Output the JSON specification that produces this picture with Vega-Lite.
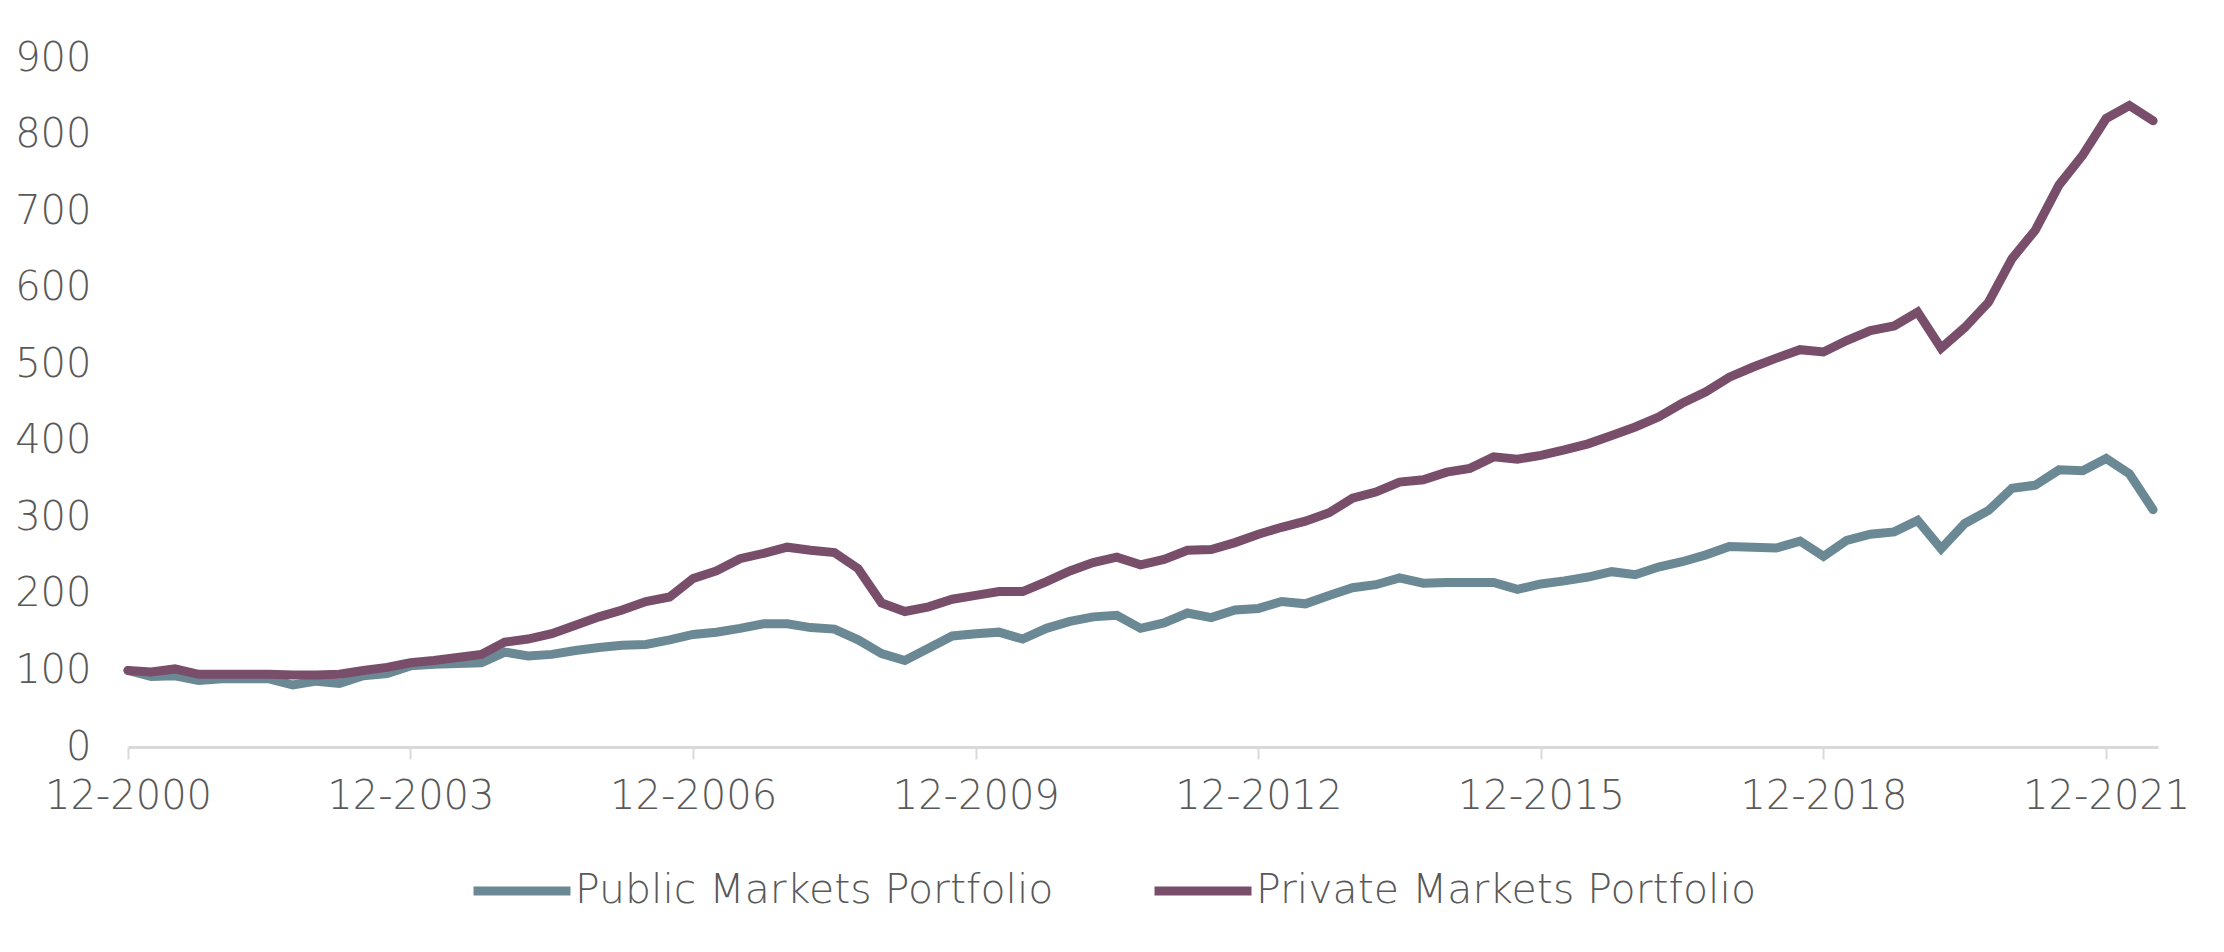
{
  "$schema": "https://vega.github.io/schema/vega-lite/v6.json",
  "width": 2030,
  "height": 689,
  "autosize": {"type": "none"},
  "padding": {"left": 128, "top": 58, "right": 66, "bottom": 205},
  "background": "white",
  "config": {
    "font": "DejaVu Sans",
    "view": {"stroke": null},
    "axis": {
      "labelFont": "DejaVu Sans",
      "labelFontWeight": 300,
      "labelColor": "#595959",
      "labelFontSize": 40,
      "grid": false,
      "title": null
    },
    "legend": {
      "labelFont": "DejaVu Sans",
      "labelFontWeight": 300,
      "labelColor": "#595959",
      "labelFontSize": 41
    }
  },
  "data": {
    "values": [
      {"date": "2000-12-01", "public": 100, "private": 100},
      {"date": "2001-03-01", "public": 92, "private": 98},
      {"date": "2001-06-01", "public": 93, "private": 102},
      {"date": "2001-09-01", "public": 87, "private": 95},
      {"date": "2001-12-01", "public": 89, "private": 95},
      {"date": "2002-03-01", "public": 89, "private": 95},
      {"date": "2002-06-01", "public": 89, "private": 95},
      {"date": "2002-09-01", "public": 81, "private": 94},
      {"date": "2002-12-01", "public": 86, "private": 94},
      {"date": "2003-03-01", "public": 83, "private": 95},
      {"date": "2003-06-01", "public": 93, "private": 100},
      {"date": "2003-09-01", "public": 96, "private": 104},
      {"date": "2003-12-01", "public": 106, "private": 110},
      {"date": "2004-03-01", "public": 108, "private": 113},
      {"date": "2004-06-01", "public": 109, "private": 117},
      {"date": "2004-09-01", "public": 110, "private": 121},
      {"date": "2004-12-01", "public": 124, "private": 137},
      {"date": "2005-03-01", "public": 119, "private": 141},
      {"date": "2005-06-01", "public": 121, "private": 148},
      {"date": "2005-09-01", "public": 126, "private": 159},
      {"date": "2005-12-01", "public": 130, "private": 170},
      {"date": "2006-03-01", "public": 133, "private": 179},
      {"date": "2006-06-01", "public": 134, "private": 190},
      {"date": "2006-09-01", "public": 140, "private": 196},
      {"date": "2006-12-01", "public": 147, "private": 220},
      {"date": "2007-03-01", "public": 150, "private": 230},
      {"date": "2007-06-01", "public": 155, "private": 246},
      {"date": "2007-09-01", "public": 161, "private": 253},
      {"date": "2007-12-01", "public": 161, "private": 261},
      {"date": "2008-03-01", "public": 156, "private": 257},
      {"date": "2008-06-01", "public": 154, "private": 254},
      {"date": "2008-09-01", "public": 140, "private": 233},
      {"date": "2008-12-01", "public": 122, "private": 188},
      {"date": "2009-03-01", "public": 113, "private": 177},
      {"date": "2009-06-01", "public": 129, "private": 183},
      {"date": "2009-09-01", "public": 145, "private": 193},
      {"date": "2009-12-01", "public": 148, "private": 198},
      {"date": "2010-03-01", "public": 150, "private": 203},
      {"date": "2010-06-01", "public": 141, "private": 203},
      {"date": "2010-09-01", "public": 155, "private": 216},
      {"date": "2010-12-01", "public": 164, "private": 230},
      {"date": "2011-03-01", "public": 170, "private": 241},
      {"date": "2011-06-01", "public": 172, "private": 248},
      {"date": "2011-09-01", "public": 155, "private": 238},
      {"date": "2011-12-01", "public": 162, "private": 245},
      {"date": "2012-03-01", "public": 175, "private": 257},
      {"date": "2012-06-01", "public": 169, "private": 258},
      {"date": "2012-09-01", "public": 179, "private": 267},
      {"date": "2012-12-01", "public": 181, "private": 278},
      {"date": "2013-03-01", "public": 190, "private": 287},
      {"date": "2013-06-01", "public": 187, "private": 295},
      {"date": "2013-09-01", "public": 198, "private": 306},
      {"date": "2013-12-01", "public": 208, "private": 325},
      {"date": "2014-03-01", "public": 212, "private": 333},
      {"date": "2014-06-01", "public": 221, "private": 346},
      {"date": "2014-09-01", "public": 214, "private": 349},
      {"date": "2014-12-01", "public": 215, "private": 359},
      {"date": "2015-03-01", "public": 215, "private": 364},
      {"date": "2015-06-01", "public": 215, "private": 379},
      {"date": "2015-09-01", "public": 206, "private": 376},
      {"date": "2015-12-01", "public": 213, "private": 381},
      {"date": "2016-03-01", "public": 217, "private": 388},
      {"date": "2016-06-01", "public": 222, "private": 396},
      {"date": "2016-09-01", "public": 229, "private": 407},
      {"date": "2016-12-01", "public": 225, "private": 418},
      {"date": "2017-03-01", "public": 235, "private": 431},
      {"date": "2017-06-01", "public": 242, "private": 449},
      {"date": "2017-09-01", "public": 251, "private": 464},
      {"date": "2017-12-01", "public": 262, "private": 483},
      {"date": "2018-03-01", "public": 261, "private": 496},
      {"date": "2018-06-01", "public": 260, "private": 508},
      {"date": "2018-09-01", "public": 269, "private": 519},
      {"date": "2018-12-01", "public": 249, "private": 516},
      {"date": "2019-03-01", "public": 270, "private": 531},
      {"date": "2019-06-01", "public": 278, "private": 544},
      {"date": "2019-09-01", "public": 281, "private": 550},
      {"date": "2019-12-01", "public": 296, "private": 568},
      {"date": "2020-03-01", "public": 259, "private": 521},
      {"date": "2020-06-01", "public": 292, "private": 548},
      {"date": "2020-09-01", "public": 309, "private": 581},
      {"date": "2020-12-01", "public": 338, "private": 638},
      {"date": "2021-03-01", "public": 342, "private": 675},
      {"date": "2021-06-01", "public": 362, "private": 734},
      {"date": "2021-09-01", "public": 361, "private": 773},
      {"date": "2021-12-01", "public": 377, "private": 821},
      {"date": "2022-03-01", "public": 357, "private": 838},
      {"date": "2022-06-01", "public": 310, "private": 818}
    ]
  },
  "encoding": {
    "x": {
      "field": "date",
      "type": "temporal",
      "scale": {
        "type": "utc",
        "domain": [
          {"year": 2000, "month": 12, "date": 1, "utc": true},
          {"year": 2022, "month": 6, "date": 20, "utc": true}
        ]
      },
      "axis": {
        "values": [
          {"year": 2000, "month": 12, "date": 1, "utc": true},
          {"year": 2003, "month": 12, "date": 1, "utc": true},
          {"year": 2006, "month": 12, "date": 1, "utc": true},
          {"year": 2009, "month": 12, "date": 1, "utc": true},
          {"year": 2012, "month": 12, "date": 1, "utc": true},
          {"year": 2015, "month": 12, "date": 1, "utc": true},
          {"year": 2018, "month": 12, "date": 1, "utc": true},
          {"year": 2021, "month": 12, "date": 1, "utc": true}
        ],
        "format": "%m-%Y",
        "domainColor": "#d9d9d9",
        "domainWidth": 3,
        "tickColor": "#d9d9d9",
        "tickWidth": 2,
        "tickSize": 12,
        "labelPadding": 17,
        "labelFlush": false,
        "labelOverlap": false
      }
    }
  },
  "layer": [
    {
      "mark": {"type": "line", "strokeWidth": 9, "strokeCap": "round", "clip": false},
      "encoding": {
        "y": {
          "field": "public",
          "type": "quantitative",
          "scale": {"domain": [0, 900], "nice": false},
          "axis": {
            "values": [0, 100, 200, 300, 400, 500, 600, 700, 800, 900],
            "domain": false,
            "ticks": false,
            "labelPadding": 37
          }
        },
        "color": {
          "datum": "Public Markets Portfolio",
          "type": "nominal",
          "scale": {
            "domain": ["Public Markets Portfolio", "Private Markets Portfolio"],
            "range": ["#6b8995", "#794e6a"]
          },
          "legend": {
            "title": null,
            "orient": "none",
            "direction": "horizontal",
            "legendX": 341,
            "legendY": 780,
            "symbolType": "stroke",
            "symbolSize": 9409,
            "symbolStrokeWidth": 9,
            "labelOffset": 0,
            "columnPadding": 82,
            "labelLimit": 1000
          }
        }
      }
    },
    {
      "mark": {"type": "line", "strokeWidth": 9, "strokeCap": "round", "clip": false},
      "encoding": {
        "y": {"field": "private", "type": "quantitative"},
        "color": {"datum": "Private Markets Portfolio", "type": "nominal"}
      }
    }
  ]
}
